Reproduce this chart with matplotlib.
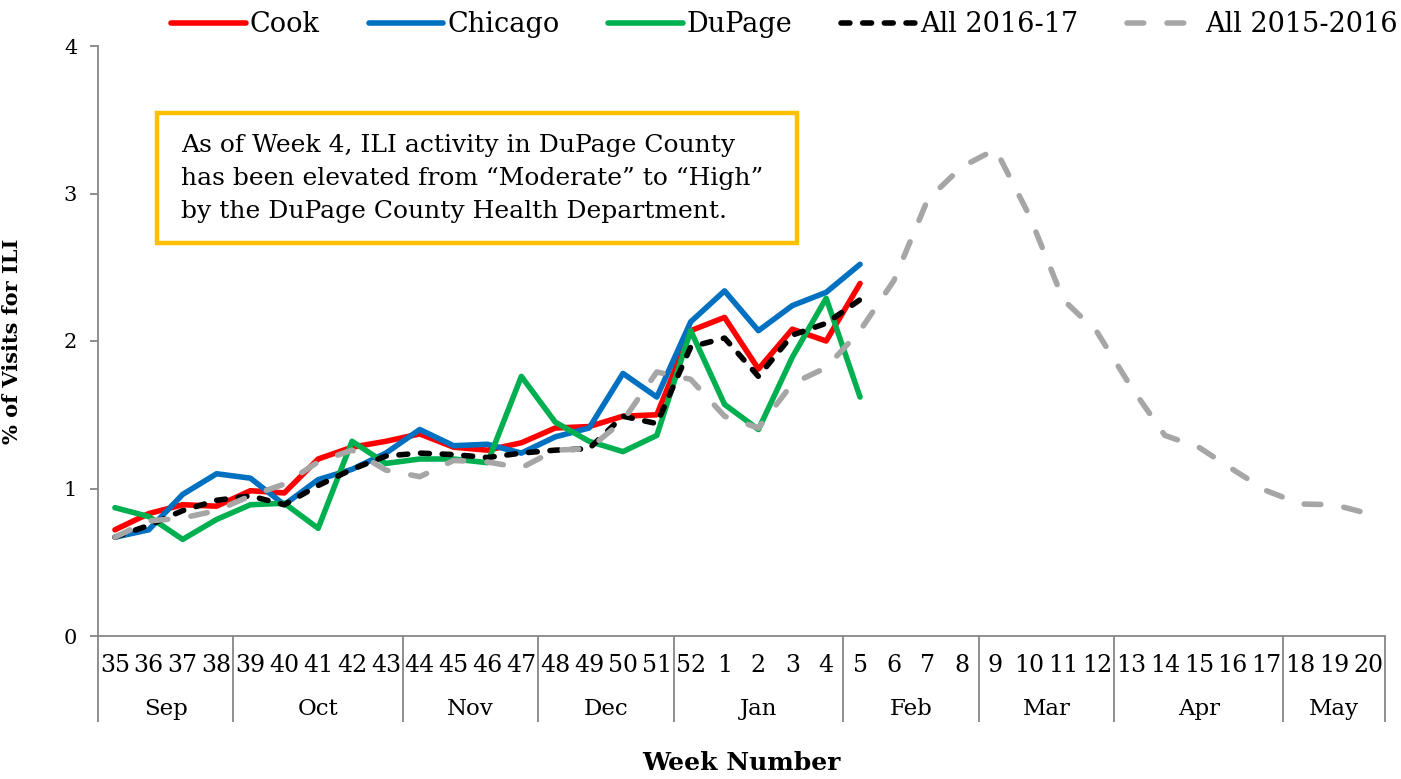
import matplotlib
matplotlib.use("Agg")
import matplotlib.pyplot as plt
from matplotlib.patches import Rectangle

plt.rcParams["font.family"] = ["DejaVu Serif"]

# week numbers along the flu season (Sep 2016 -> May 2017)
weeks = [35, 36, 37, 38, 39, 40, 41, 42, 43, 44, 45, 46, 47, 48, 49, 50, 51, 52,
         1, 2, 3, 4, 5, 6, 7, 8, 9, 10, 11, 12, 13, 14, 15, 16, 17, 18, 19, 20]
months = ["Sep", "Oct", "Nov", "Dec", "Jan", "Feb", "Mar", "Apr", "May"]
weeks_per_month = [4, 5, 4, 4, 5, 4, 4, 5, 3]

# % of visits for ILI (2016-17 season, weeks 35 -> 5)
cook = [0.72, 0.83, 0.89, 0.88, 0.985, 0.97, 1.20, 1.28, 1.32, 1.37, 1.28, 1.26,
        1.31, 1.41, 1.42, 1.49, 1.50, 2.07, 2.16, 1.81, 2.08, 2.00, 2.39]
chicago = [0.67, 0.72, 0.96, 1.10, 1.07, 0.89, 1.06, 1.13, 1.24, 1.40, 1.29, 1.30,
           1.24, 1.35, 1.41, 1.78, 1.62, 2.13, 2.34, 2.07, 2.24, 2.33, 2.52]
dupage = [0.87, 0.81, 0.655, 0.79, 0.89, 0.90, 0.73, 1.32, 1.17, 1.20, 1.20, 1.175,
          1.76, 1.45, 1.32, 1.25, 1.36, 2.07, 1.57, 1.40, 1.89, 2.29, 1.62]
all_1617 = [0.67, 0.75, 0.85, 0.92, 0.95, 0.89, 1.02, 1.13, 1.22, 1.24, 1.23, 1.21,
            1.24, 1.26, 1.27, 1.49, 1.44, 1.96, 2.02, 1.76, 2.04, 2.12, 2.28]
# previous season, full run
all_1516 = [0.67, 0.78, 0.80, 0.85, 0.95, 1.03, 1.18, 1.26, 1.125, 1.08, 1.19, 1.18,
            1.14, 1.26, 1.27, 1.46, 1.79, 1.74, 1.49, 1.41, 1.71, 1.82, 2.07, 2.41,
            2.96, 3.18, 3.30, 2.85, 2.28, 2.06, 1.69, 1.36, 1.28, 1.13, 0.985, 0.895,
            0.89, 0.83]

note = ("As of Week 4, ILI activity in DuPage County\n"
        "has been elevated from \u201cModerate\u201d to \u201cHigh\u201d\n"
        "by the DuPage County Health Department.")

fig = plt.figure(figsize=(14.01, 7.79), dpi=100)
ax = fig.add_axes([98 / 1401, 1 - 636 / 779, 1287 / 1401, 590 / 779])

lw = 4.0
x_cur = list(range(len(cook)))
x_all = list(range(len(all_1516)))
ax.plot(x_cur, cook, color="#FF0000", lw=lw, label="Cook", solid_capstyle="round")
ax.plot(x_cur, chicago, color="#0070C0", lw=lw, label="Chicago", solid_capstyle="round")
ax.plot(x_cur, dupage, color="#00B050", lw=lw, label="DuPage", solid_capstyle="round")
ax.plot(x_cur, all_1617, color="black", lw=lw, label="All 2016-17",
        dashes=(1.6, 2.3), dash_capstyle="round")
ax.plot(x_all, all_1516, color="#A6A6A6", lw=lw, label="All 2015-2016",
        dashes=(3.0, 4.2), dash_capstyle="round")

ax.set_xlim(-0.5, len(weeks) - 0.5)
ax.set_ylim(0, 4)

grey = "#868686"
for s in ("top", "right"):
    ax.spines[s].set_visible(False)
for s in ("left", "bottom"):
    ax.spines[s].set_color(grey)
    ax.spines[s].set_linewidth(1.3)

ax.set_yticks([0, 1, 2, 3, 4])
ax.tick_params(axis="y", direction="out", length=6, width=1.3, color=grey,
               labelsize=15, pad=9)

# two-level category axis: week numbers, then months with separators
ax.set_xticks(range(len(weeks)))
ax.set_xticklabels([str(w) for w in weeks])
ax.tick_params(axis="x", which="major", length=0, labelsize=17, pad=13)

bounds = [-0.5]
for n in weeks_per_month:
    bounds.append(bounds[-1] + n)
ax.set_xticks(bounds, minor=True)
ax.tick_params(axis="x", which="minor", length=62, width=1.3, color=grey)

tr = ax.get_xaxis_transform()
for m, a, b in zip(months, bounds[:-1], bounds[1:]):
    ax.text((a + b) / 2, -0.123, m, transform=tr, ha="center", va="center",
            fontsize=16.5)

ax.set_ylabel("% of Visits for ILI", fontsize=15, fontweight="bold")
ax.yaxis.set_label_coords(-0.059, 0.5)
ax.set_xlabel("Week Number", fontsize=18, fontweight="bold", va="center")
ax.xaxis.set_label_coords(0.5, -0.215)

ax.add_patch(Rectangle((0.0458, 0.666), 0.497, 0.220, transform=ax.transAxes,
                       fill=False, edgecolor="#FFC000", lw=3.2, clip_on=False))
ax.text(0.0645, 0.776, note, transform=ax.transAxes, ha="left", va="center",
        fontsize=18, linespacing=1.55)

fig.legend(loc="center", bbox_to_anchor=(0.56, 1 - 25 / 779), ncol=5,
           frameon=False, fontsize=19.5, handlelength=2.75, handletextpad=0.15,
           columnspacing=1.8)

fig.savefig("out.png", dpi=100)
